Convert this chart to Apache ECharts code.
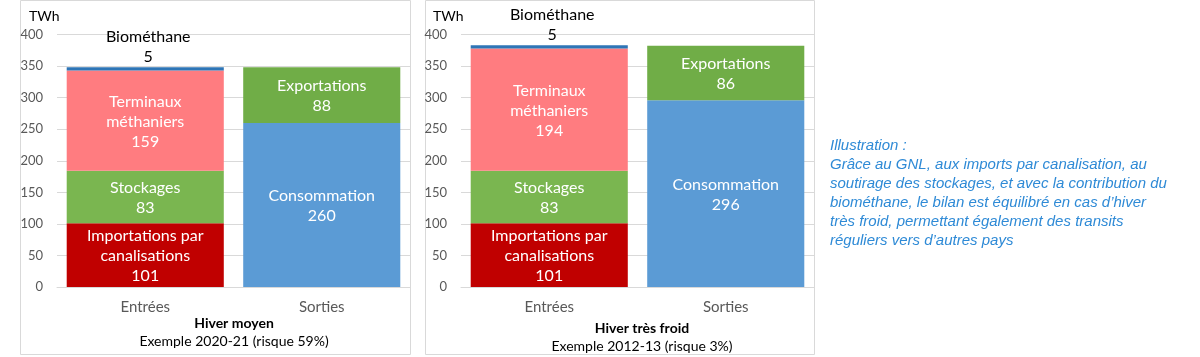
<!DOCTYPE html>
<html><head><meta charset="utf-8">
<script src="https://cdn.jsdelivr.net/npm/echarts@6/dist/echarts.min.js"></script>
<style>html,body{margin:0;padding:0;background:#fff}#c{width:1200px;height:357px}</style>
</head><body><div id="c"></div>
<script>
const categories = ['Entrées', 'Sorties'];
const yTicks = [0, 50, 100, 150, 200, 250, 300, 350, 400];
const seriesNames = ['Importations par\ncanalisations', 'Stockages', 'Terminaux\nméthaniers', 'Biométhane', 'Consommation', 'Exportations'];
// Hiver moyen
const moyenImport = [101, '-'];
const moyenStock = [83, '-'];
const moyenTerm = [159, '-'];
const moyenBio = [5, '-'];
const moyenConso = ['-', 260];
const moyenExport = ['-', 88];
// Hiver très froid
const froidImport = [101, '-'];
const froidStock = [83, '-'];
const froidTerm = [194, '-'];
const froidBio = [5, '-'];
const froidConso = ['-', 296];
const froidExport = ['-', 86];

const colors = ['#C00000', '#7AB650', '#FF7C80', '#2E75B6', '#5B9BD5', '#70AD47'];
const FONT = 'Lato';

function mkSeries(idx, data) {
  return data.map((d, i) => {
    const isBio = i === 3;
    return {
      type: 'bar', name: seriesNames[i], stack: 's' + idx,
      xAxisIndex: idx, yAxisIndex: idx, data: d,
      barCategoryGap: '11%',
      itemStyle: {color: colors[i]},
      label: {
        show: true,
        position: isBio ? 'top' : 'inside',
        distance: 0,
        offset: isBio ? [3, 0] : [0, 1],
        formatter: p => (isBio ? 'Biométhane' : p.seriesName) + '\n' + p.value,
        color: isBio ? '#000' : '#fff',
        fontFamily: FONT, fontSize: 16, lineHeight: 20
      }
    };
  });
}

const grids = [
  {left: 57, right: 1200 - 410, top: 34.5, bottom: 70},
  {left: 461, right: 1200 - 814, top: 34.5, bottom: 70}
];

const option = {
  animation: false,
  grid: grids,
  xAxis: grids.map((g, i) => ({
    type: 'category', gridIndex: i, data: categories,
    axisLine: {lineStyle: {color: '#D9D9D9'}}, axisTick: {show: false},
    axisLabel: {color: '#595959', fontFamily: FONT, fontSize: 15, margin: 13}
  })),
  yAxis: grids.map((g, i) => ({
    type: 'value', gridIndex: i, min: 0, max: 400, interval: 50,
    axisLine: {show: false}, axisTick: {show: false},
    splitLine: {lineStyle: {color: '#D9D9D9'}},
    axisLabel: {color: '#595959', fontFamily: FONT, fontSize: 13, margin: 14,
      formatter: v => yTicks.includes(v) ? String(v) : ''}
  })),
  series: [
    ...mkSeries(0, [moyenImport, moyenStock, moyenTerm, moyenBio, moyenConso, moyenExport]),
    ...mkSeries(1, [froidImport, froidStock, froidTerm, froidBio, froidConso, froidExport])
  ],
  graphic: [
    {type: 'rect', shape: {x: 20.5, y: 0.5, width: 390, height: 354}, style: {fill: 'none', stroke: '#D9D9D9', lineWidth: 1}, silent: true},
    {type: 'rect', shape: {x: 425.5, y: 0.5, width: 389, height: 354}, style: {fill: 'none', stroke: '#D9D9D9', lineWidth: 1}, silent: true},
    {type: 'text', left: 29, top: 9, style: {text: 'TWh', font: '14px ' + FONT, fill: '#000'}},
    {type: 'text', left: 433, top: 9, style: {text: 'TWh', font: '14px ' + FONT, fill: '#000'}},
    {type: 'text', x: 234, y: 323, style: {text: 'Hiver moyen', font: 'bold 14px ' + FONT, fill: '#000', align: 'center', verticalAlign: 'middle'}},
    {type: 'text', x: 234, y: 341, style: {text: 'Exemple 2020-21 (risque 59%)', font: '14px ' + FONT, fill: '#000', align: 'center', verticalAlign: 'middle'}},
    {type: 'text', x: 642, y: 328, style: {text: 'Hiver très froid', font: 'bold 14px ' + FONT, fill: '#000', align: 'center', verticalAlign: 'middle'}},
    {type: 'text', x: 642, y: 346, style: {text: 'Exemple 2012-13 (risque 3%)', font: '14px ' + FONT, fill: '#000', align: 'center', verticalAlign: 'middle'}},
    {type: 'text', left: 830, top: 136, style: {
      text: 'Illustration :\nGrâce au GNL, aux imports par canalisation, au\nsoutirage des stockages, et avec la contribution du\nbiométhane, le bilan est équilibré en cas d’hiver\ntrès froid, permettant également des transits\nréguliers vers d’autres pays',
      font: 'italic 15px "Liberation Sans", Arial, sans-serif', lineHeight: 19, fill: '#2E8AD6'}}
  ]
};
echarts.init(document.getElementById('c')).setOption(option);
</script></body></html>
